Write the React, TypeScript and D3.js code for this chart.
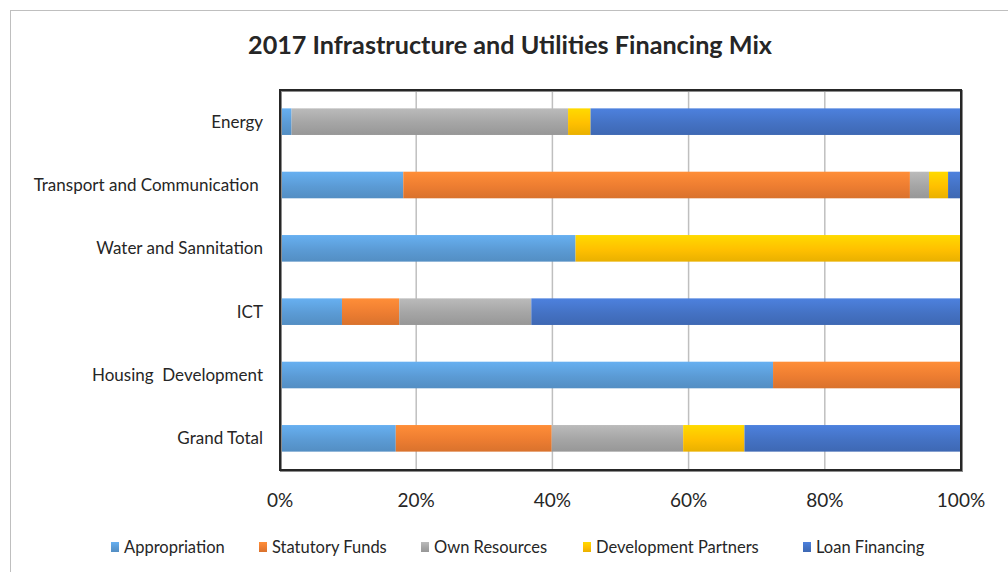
import { useEffect, useRef } from 'react';
import * as d3 from 'd3';

const categories = [
  'Energy',
  'Transport and Communication ',
  'Water and Sannitation',
  'ICT',
  'Housing  Development',
  'Grand Total',
];
const seriesNames = ['Appropriation', 'Statutory Funds', 'Own Resources', 'Development Partners', 'Loan Financing'];
const seriesColors = ['#5B9BD5', '#ED7D31', '#A5A5A5', '#FFC000', '#4472C4'];

// shares in percent, one array per series, in category order
const appropriation = [1.7, 18.1, 43.4, 9.1, 72.4, 17.0];
const statutoryFunds = [0, 74.4, 0, 8.4, 27.6, 22.9];
const ownResources = [40.6, 2.8, 0, 19.4, 0, 19.3];
const developmentPartners = [3.3, 2.8, 56.6, 0, 0, 9.0];
const loanFinancing = [54.4, 1.9, 0, 63.1, 0, 31.8];

const xTicks = [0, 0.2, 0.4, 0.6, 0.8, 1];

const FONT = 'Lato, "Open Sans", sans-serif';

function App() {
  const svgRef = useRef<SVGSVGElement>(null);

  useEffect(() => {
    const svg = d3.select(svgRef.current);
    svg.selectAll('*').remove();

    const W = 1008;
    const H = 572;
    const plot = { left: 280, right: 961, top: 90, bottom: 470 };

    const rows = categories.map((c, i) => {
      const vals = [appropriation[i], statutoryFunds[i], ownResources[i], developmentPartners[i], loanFinancing[i]];
      const total = d3.sum(vals);
      const row: any = { category: c };
      seriesNames.forEach((s, j) => (row[s] = vals[j] / total));
      return row;
    });

    const stacked = d3.stack().keys(seriesNames)(rows);

    const x = d3.scaleLinear().domain([0, 1]).range([plot.left, plot.right]);
    const y = d3
      .scaleBand()
      .domain(categories)
      .range([plot.top, plot.bottom])
      .paddingInner(0.58)
      .paddingOuter(0.29);

    // gradients
    const defs = svg.append('defs');
    seriesColors.forEach((col, i) => {
      const g = defs
        .append('linearGradient')
        .attr('id', `grad${i}`)
        .attr('x1', 0)
        .attr('y1', 0)
        .attr('x2', 0)
        .attr('y2', 1);
      g.append('stop').attr('offset', '0%').attr('stop-color', d3.color(col)!.brighter(0.35).formatHex());
      g.append('stop').attr('offset', '55%').attr('stop-color', col);
      g.append('stop').attr('offset', '100%').attr('stop-color', d3.color(col)!.darker(0.25).formatHex());
    });

    svg.append('rect').attr('width', W).attr('height', H).attr('fill', '#fff');

    // outer chart frame
    svg
      .append('rect')
      .attr('x', 10.5)
      .attr('y', 10.5)
      .attr('width', W + 20)
      .attr('height', H + 20)
      .attr('fill', 'none')
      .attr('stroke', '#BFBFBF')
      .attr('stroke-width', 1);

    svg
      .append('text')
      .attr('x', 510)
      .attr('y', 54)
      .attr('text-anchor', 'middle')
      .attr('font-family', FONT)
      .attr('font-weight', 'bold')
      .attr('font-size', 25.2)
      .attr('fill', '#262626')
      .text('2017 Infrastructure and Utilities Financing Mix');

    // gridlines
    svg
      .append('g')
      .selectAll('line')
      .data(xTicks.slice(1, -1))
      .enter()
      .append('line')
      .attr('x1', (d) => x(d))
      .attr('x2', (d) => x(d))
      .attr('y1', plot.top)
      .attr('y2', plot.bottom)
      .attr('stroke', '#BFBFBF')
      .attr('stroke-width', 1.5);

    // bars
    svg
      .append('g')
      .selectAll('g')
      .data(stacked)
      .enter()
      .append('g')
      .attr('fill', (d, i) => `url(#grad${i})`)
      .selectAll('rect')
      .data((d) => d)
      .enter()
      .append('rect')
      .attr('x', (d) => x(d[0]))
      .attr('y', (d: any) => y(d.data.category)!)
      .attr('width', (d) => Math.max(0, x(d[1]) - x(d[0])))
      .attr('height', y.bandwidth());

    // plot frame with shadow
    svg
      .append('rect')
      .attr('x', plot.left + 1)
      .attr('y', plot.top + 1)
      .attr('width', plot.right - plot.left)
      .attr('height', plot.bottom - plot.top)
      .attr('fill', 'none')
      .attr('stroke', '#8c8c8c')
      .attr('stroke-width', 2);
    svg
      .append('rect')
      .attr('x', plot.left)
      .attr('y', plot.top)
      .attr('width', plot.right - plot.left)
      .attr('height', plot.bottom - plot.top)
      .attr('fill', 'none')
      .attr('stroke', '#262626')
      .attr('stroke-width', 2);

    // category labels
    svg
      .append('g')
      .selectAll('text')
      .data(categories)
      .enter()
      .append('text')
      .attr('x', 263)
      .attr('y', (d) => y(d)! + y.bandwidth() / 2)
      .attr('dy', '0.35em')
      .attr('text-anchor', 'end')
      .attr('font-family', FONT)
      .attr('font-size', 17)
      .attr('fill', '#262626')
      .style('white-space', 'pre')
      .text((d) => d);

    // x tick labels
    svg
      .append('g')
      .selectAll('text')
      .data(xTicks)
      .enter()
      .append('text')
      .attr('x', (d) => x(d))
      .attr('y', 507)
      .attr('text-anchor', 'middle')
      .attr('font-family', FONT)
      .attr('font-size', 19)
      .attr('fill', '#262626')
      .text((d) => d3.format('.0%')(d));

    // legend
    const legendX = [111, 259, 421, 583, 803];
    const leg = svg
      .append('g')
      .selectAll('g')
      .data(seriesNames)
      .enter()
      .append('g')
      .attr('transform', (d, i) => `translate(${legendX[i]},547)`);
    leg
      .append('rect')
      .attr('x', 0)
      .attr('y', -5)
      .attr('width', 8)
      .attr('height', 10)
      .attr('fill', (d, i) => `url(#grad${i})`);
    leg
      .append('text')
      .attr('x', 13)
      .attr('dy', '0.35em')
      .attr('font-family', FONT)
      .attr('font-size', 16.5)
      .attr('fill', '#262626')
      .text((d) => d);
  }, []);

  return (
    <svg
      ref={svgRef}
      width={1008}
      height={572}
      viewBox="0 0 1008 572"
      style={{ position: 'absolute', left: 0, top: 0 }}
    />
  );
}

export default App;
